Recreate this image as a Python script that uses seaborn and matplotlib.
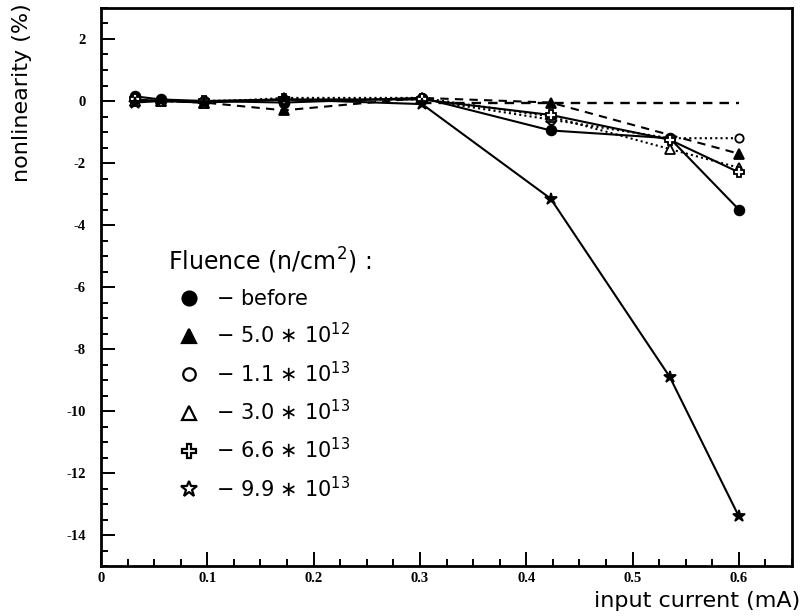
import matplotlib
matplotlib.use("Agg")
import matplotlib.pyplot as plt
from matplotlib.lines import Line2D
from matplotlib.ticker import MultipleLocator
import seaborn as sns
import pandas as pd

# input current (mA) at which the nonlinearity was measured
current = [0.032, 0.056, 0.097, 0.172, 0.302, 0.423, 0.535, 0.600]
current_no_mid = [0.032, 0.056, 0.097, 0.172, 0.302, 0.423, 0.600]

# nonlinearity (%) for each fluence
nl_before = [0.15, 0.05, 0.0, -0.05, 0.1, -0.95, -1.2, -3.5]
nl_5_0e12 = [0.0, 0.0, -0.05, -0.3, 0.1, -0.05, -1.7]
nl_1_1e13 = [0.05, 0.0, 0.0, 0.05, 0.05, -0.6, -1.2, -1.2]
nl_3_0e13 = [0.0, 0.0, -0.05, 0.1, 0.1, -0.5, -1.55, -2.15]
nl_6_6e13 = [0.05, 0.0, 0.0, 0.05, 0.05, -0.45, -1.25, -2.3]
nl_9_9e13 = [-0.05, 0.0, -0.05, 0.05, -0.1, -3.15, -8.9, -13.4]

# horizontal dashed guide
guide_x = [0.302, 0.600]
guide_y = [-0.08, -0.08]

x_ticks = [0, 0.1, 0.2, 0.3, 0.4, 0.5, 0.6]
x_tick_labels = ["0", "0.1", "0.2", "0.3", "0.4", "0.5", "0.6"]
y_ticks = [-14, -12, -10, -8, -6, -4, -2, 0, 2]
y_tick_labels = ["-14", "-12", "-10", "-8", "-6", "-4", "-2", "0", "2"]

labels = [
    r"$-$ before",
    r"$-$ 5.0 $\ast$ 10$^{12}$",
    r"$-$ 1.1 $\ast$ 10$^{13}$",
    r"$-$ 3.0 $\ast$ 10$^{13}$",
    r"$-$ 6.6 $\ast$ 10$^{13}$",
    r"$-$ 9.9 $\ast$ 10$^{13}$",
]

series = [
    (current, nl_before, "o", "black", "-", 7),
    (current_no_mid, nl_5_0e12, "^", "black", (0, (4, 3)), 7),
    (current, nl_1_1e13, "o", "white", (0, (1, 1.5)), 6),
    (current, nl_3_0e13, "^", "white", (0, (1, 1.5)), 7),
    (current, nl_6_6e13, "P", "white", "-", 7),
    (current, nl_9_9e13, "*", "black", "-", 9),
]

sns.set_theme(style="white")
plt.rcParams["font.family"] = ["DejaVu Sans"]
plt.rcParams["mathtext.fontset"] = "dejavusans"
plt.rcParams["text.color"] = "black"
plt.rcParams["axes.labelcolor"] = "black"

fig = plt.figure(figsize=(8.01, 6.16), dpi=100)
ax = fig.add_axes([101 / 801, 50 / 616, 691 / 801, 558 / 616])

for xs, ys, mk, fc, ls, ms in series:
    df = pd.DataFrame({"x": xs, "y": ys})
    sns.lineplot(data=df, x="x", y="y", ax=ax, color="black", linestyle=ls,
                 linewidth=1.5, marker=mk, markersize=ms, markerfacecolor=fc,
                 markeredgecolor="black", markeredgewidth=1.3, sort=False)

sns.lineplot(x=guide_x, y=guide_y, ax=ax, color="black",
             linestyle=(0, (4, 3)), linewidth=1.7)

ax.set_xlim(0, 0.65)
ax.set_ylim(-15, 3)
ax.xaxis.set_minor_locator(MultipleLocator(0.025))
ax.yaxis.set_minor_locator(MultipleLocator(0.5))
ax.set_xticks(x_ticks)
ax.set_xticklabels(x_tick_labels)
ax.set_yticks(y_ticks)
ax.set_yticklabels(y_tick_labels)
ax.tick_params(which="both", direction="in", bottom=True, left=True,
               top=False, right=False, colors="black", width=1.4)
ax.tick_params(which="major", length=10, labelsize=10.5)
ax.tick_params(axis="x", which="major", pad=4)
ax.tick_params(axis="y", which="major", pad=11)
ax.tick_params(which="minor", length=5)
for lab in ax.get_xticklabels() + ax.get_yticklabels():
    lab.set_family("Liberation Serif")
    lab.set_fontweight("bold")
for sp in ax.spines.values():
    sp.set_color("black")
    sp.set_linewidth(2.0)

ax.set_xlabel("input current (mA)", fontsize=16, ha="right", va="center",
              color="black")
ax.xaxis.set_label_coords(1.0116, -0.063)
ax.set_ylabel("nonlinearity (%)", fontsize=16, ha="right", va="center",
              color="black")
ax.yaxis.set_label_coords(-0.114, 1.009)

handles = [
    Line2D([], [], linestyle="none", marker=mk, markersize=ms + 3,
           markerfacecolor=("white" if mk == "*" else fc),
           markeredgecolor="black", markeredgewidth=1.6)
    for _, _, mk, fc, _, ms in series
]
leg = ax.legend(handles, labels, title=r"Fluence (n/cm$^2$) :", frameon=False,
                fontsize=15, title_fontsize=17, loc="lower left",
                bbox_to_anchor=(0.085, 0.102), handletextpad=0.3,
                labelspacing=0.63, borderaxespad=0, labelcolor="black")
leg.get_title().set_color("black")
leg._legend_box.align = "left"

fig.savefig("out.png", dpi=100)
